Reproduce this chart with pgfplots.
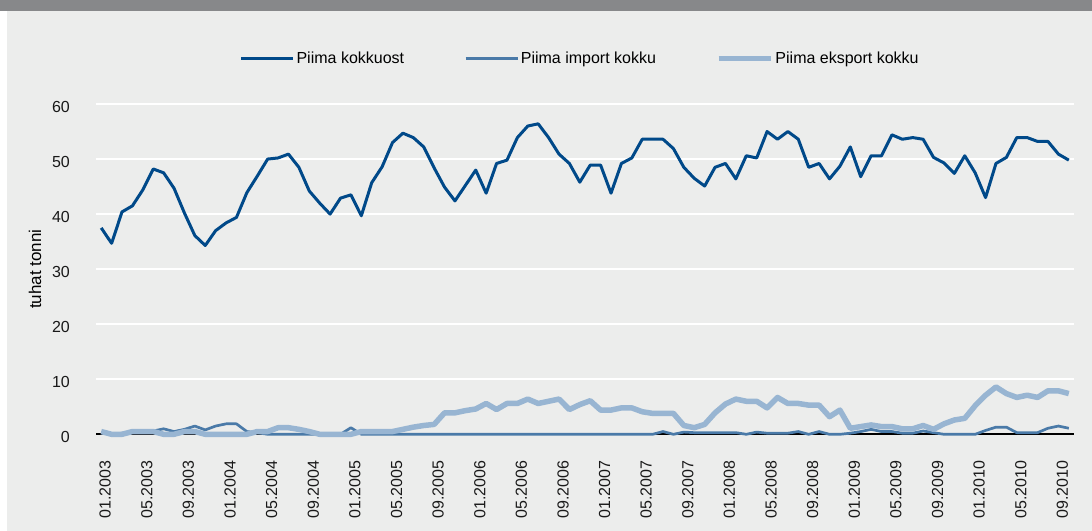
\documentclass[border=0pt]{standalone}
\usepackage{fontspec}
\setmainfont{Liberation Sans}
\usepackage{pgfplots}
\usepackage{pgfplotstable}
\pgfplotsset{compat=1.18}
\definecolor{bgc}{RGB}{236,237,236}
\definecolor{barc}{RGB}{135,136,138}
\definecolor{mainc}{RGB}{0,73,137}
\definecolor{impc}{RGB}{74,122,168}
\definecolor{expc}{RGB}{152,181,210}
\pgfplotstableread{
i main imp exp
0 37.5 0.3 0.5
1 34.7 0 0
2 40.4 0.2 0
3 41.5 0.5 0.5
4 44.4 0.5 0.5
5 48.2 0.6 0.5
6 47.5 1.0 0
7 44.7 0.5 0
8 40.2 0.9 0.5
9 36.1 1.5 0.5
10 34.3 0.8 0
11 37.0 1.5 0
12 38.4 1.9 0
13 39.4 1.9 0
14 43.9 0.5 0
15 46.9 0.3 0.5
16 50.0 0 0.5
17 50.2 0 1.2
18 50.9 0 1.2
19 48.5 0 0.9
20 44.2 0 0.5
21 42.0 0 0
22 40.0 0 0
23 42.9 0 0
24 43.5 1.2 0
25 39.7 0 0.5
26 45.7 0 0.5
27 48.6 0 0.5
28 53.0 0 0.5
29 54.7 0 0.9
30 53.9 0 1.3
31 52.2 0 1.6
32 48.4 0 1.8
33 44.9 0 3.9
34 42.4 0 3.9
35 45.2 0 4.3
36 48.0 0 4.6
37 43.8 0 5.6
38 49.2 0 4.5
39 49.8 0 5.6
40 53.9 0 5.6
41 56.0 0 6.4
42 56.4 0 5.6
43 53.9 0 6.0
44 50.9 0 6.4
45 49.2 0 4.5
46 45.8 0 5.4
47 48.9 0 6.1
48 48.9 0 4.4
49 43.8 0 4.4
50 49.2 0 4.8
51 50.2 0 4.8
52 53.6 0 4.1
53 53.6 0 3.8
54 53.6 0.5 3.8
55 51.9 0 3.8
56 48.5 0.4 1.6
57 46.5 0.3 1.2
58 45.1 0.3 1.8
59 48.5 0.3 3.9
60 49.2 0.3 5.5
61 46.4 0.3 6.4
62 50.6 0 6.0
63 50.2 0.4 6.0
64 55.0 0.2 4.8
65 53.6 0.2 6.7
66 55.0 0.2 5.6
67 53.6 0.5 5.6
68 48.5 0 5.3
69 49.2 0.5 5.3
70 46.4 0 3.2
71 48.7 0 4.4
72 52.2 0.2 1.1
73 46.8 0.5 1.4
74 50.6 0.9 1.7
75 50.6 0.5 1.4
76 54.4 0.5 1.4
77 53.6 0.2 1.0
78 53.9 0.2 1.0
79 53.6 0.6 1.6
80 50.3 0.3 0.9
81 49.3 0 1.9
82 47.4 0 2.6
83 50.6 0 2.9
84 47.5 0 5.2
85 43.0 0.7 7.1
86 49.2 1.3 8.6
87 50.3 1.3 7.4
88 53.9 0.3 6.7
89 53.9 0.3 7.1
90 53.2 0.3 6.7
91 53.2 1.1 7.9
92 50.9 1.5 7.9
93 49.8 1.1 7.4
}\datatable
\begin{document}
\begin{tikzpicture}
\path[use as bounding box] (0bp,0bp) rectangle (1092bp,-531bp);
\fill[barc] (0bp,0bp) rectangle (1092bp,-11bp);
\fill[bgc] (7bp,-11bp) rectangle (1092bp,-531bp);
\begin{axis}[
  at={(96bp,-434.3bp)}, anchor=south west,
  scale only axis, width=978bp, height=330.3bp,
  xmin=-0.5, xmax=93.5, ymin=0, ymax=60,
  clip=false,
  axis line style={draw=none},
  ymajorgrids,
  grid style={white, line width=2bp},
  major tick length=0pt,
  ytick={0,10,...,60},
  extra y ticks={0},
  extra y tick labels={},
  extra y tick style={grid style={black, line width=2bp}},
  xtick={0,4,...,92},
  xticklabels={01.2003,05.2003,09.2003,01.2004,05.2004,09.2004,01.2005,05.2005,09.2005,01.2006,05.2006,09.2006,01.2007,05.2007,09.2007,01.2008,05.2008,09.2008,01.2009,05.2009,09.2009,01.2010,05.2010,09.2010},
  /pgf/number format/assume math mode=true,
  tick label style={font=\fontsize{16bp}{19bp}\selectfont, text=black!90},
  yticklabel style={anchor=east, inner sep=0pt, xshift=-26bp, yshift=-3bp},
  xticklabel style={yshift=-26bp, xshift=4bp, rotate=90, anchor=east, inner sep=0pt},
  ylabel={tuhat tonni},
  every axis y label/.style={at={(axis description cs:-0.0624,0.5)}, rotate=90, anchor=center, font=\fontsize{17bp}{20bp}\selectfont},
  legend columns=3,
  legend style={at={(axis description cs:0.495,1.138)}, anchor=center, draw=none, fill=none,
    font=\fontsize{16bp}{19bp}\selectfont,
    /tikz/every even column/.append style={column sep=58bp}},
  legend image code/.code={\draw[#1, line cap=butt] (0bp,0bp) -- (52bp,0bp);},
]
\addplot[mainc, line width=3bp, line join=round] table[x=i, y=main] {\datatable};
\addlegendentry{Piima kokkuost}
\addplot[impc, line width=2.7bp, line join=round] table[x=i, y=imp] {\datatable};
\addlegendentry{Piima import kokku}
\addplot[expc, line width=5.5bp, line join=round] table[x=i, y=exp] {\datatable};
\addlegendentry{Piima eksport kokku}
\end{axis}
\end{tikzpicture}
\end{document}
